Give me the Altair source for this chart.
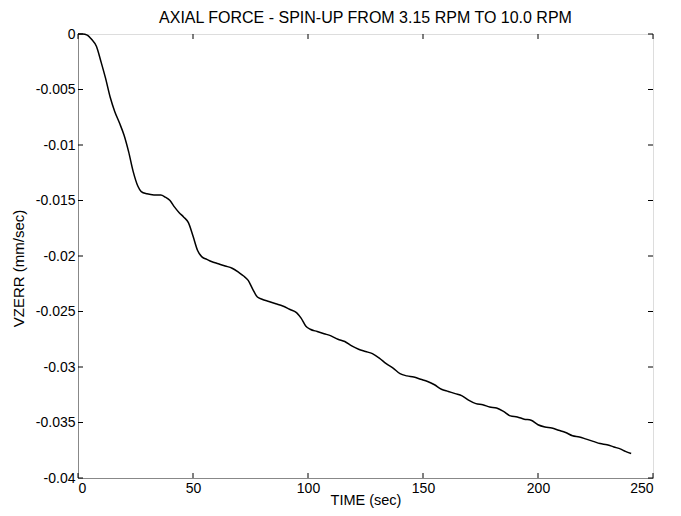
import altair as alt
import pandas as pd

# Curve (time in sec, VZERR in mm/sec)
time_s = [0, 2, 4, 6, 8, 10, 12, 14, 16, 18, 20, 22, 24, 26, 27.5, 30, 33, 36, 38, 40,
          42, 44, 46, 48, 50, 52, 54, 56, 58, 61, 64, 67, 70, 72, 74, 76, 78, 80, 83, 86,
          89, 92, 95, 97, 99, 101, 104, 107, 110, 113, 116, 119, 122, 125, 128, 131, 134,
          137, 140, 143, 146, 149, 152, 155, 158, 161, 164, 167, 170, 173, 176, 179, 182,
          185, 188, 191, 194, 197, 200, 203, 206, 209, 212, 215, 218, 221, 224, 227, 230,
          233, 236, 238, 240.5]
vzerr = [0, 0, -0.0001, -0.0005, -0.0011, -0.0025, -0.0040, -0.0057, -0.0070, -0.0080,
         -0.0091, -0.0106, -0.0124, -0.0137, -0.0142, -0.0144, -0.0145, -0.0145, -0.0147,
         -0.0150, -0.0156, -0.0161, -0.0165, -0.0170, -0.0182, -0.0195, -0.0201, -0.0203,
         -0.0205, -0.0207, -0.0209, -0.0211, -0.0215, -0.0218, -0.0222, -0.0230, -0.0237,
         -0.0239, -0.0241, -0.0243, -0.0245, -0.0248, -0.0251, -0.0256, -0.0263, -0.0266,
         -0.0268, -0.0270, -0.0272, -0.0275, -0.0277, -0.0281, -0.0284, -0.0286, -0.0288,
         -0.0292, -0.0297, -0.0301, -0.0306, -0.0308, -0.0309, -0.0311, -0.0313, -0.0316,
         -0.0320, -0.0322, -0.0324, -0.0326, -0.0330, -0.0333, -0.0334, -0.0336, -0.0337,
         -0.0340, -0.0344, -0.0345, -0.0347, -0.0348, -0.0352, -0.0354, -0.0355, -0.0357,
         -0.0359, -0.0362, -0.0363, -0.0365, -0.0367, -0.0369, -0.0370, -0.0372, -0.0374,
         -0.0376, -0.0378]

x_ticks = [0, 50, 100, 150, 200, 250]
y_ticks = [0, -0.005, -0.01, -0.015, -0.02, -0.025, -0.03, -0.035, -0.04]

W, H = 575, 444
FONT = "Liberation Sans"

df = pd.DataFrame({"t": time_s, "v": vzerr})
xt = pd.DataFrame({"t": x_ticks})
yt = pd.DataFrame({"v": y_ticks})

xs = alt.Scale(domain=[0, 250], nice=False, zero=False)
ys = alt.Scale(domain=[-0.04, 0], nice=False, zero=False)

x_axis = alt.Axis(
    values=x_ticks, title="TIME  (sec)", grid=False, ticks=False,
    labelFont=FONT, labelFontSize=14, labelColor="black", labelPadding=3,
    titleFont=FONT, titleFontSize=14.5, titleFontWeight="normal", titleColor="black",
    titleY=26.5, titleBaseline="alphabetic")
y_axis = alt.Axis(
    values=y_ticks, title="VZERR  (mm/sec)", grid=False, ticks=False,
    labelExpr="toString(datum.value)",
    labelFont=FONT, labelFontSize=14, labelColor="black", labelPadding=3,
    titleFont=FONT, titleFontSize=15, titleFontWeight="normal", titleColor="black",
    titleX=-60, titleY=234, titleAngle=-90,
    titleBaseline="middle", titleAlign="center")

line = alt.Chart(df).mark_line(color="black", strokeWidth=1.5, interpolate="monotone").encode(
    x=alt.X("t:Q", scale=xs, axis=x_axis),
    y=alt.Y("v:Q", scale=ys, axis=y_axis),
)

tb = alt.Chart(xt).mark_rule(color="black", strokeWidth=1).encode(
    x=alt.X("t:Q", scale=xs, axis=x_axis), y=alt.value(H), y2=alt.value(H - 5))
tt = alt.Chart(xt).mark_rule(color="black", strokeWidth=1).encode(
    x=alt.X("t:Q", scale=xs, axis=x_axis), y=alt.value(0), y2=alt.value(5))
tl = alt.Chart(yt).mark_rule(color="black", strokeWidth=1).encode(
    y=alt.Y("v:Q", scale=ys, axis=y_axis), x=alt.value(0), x2=alt.value(5))
tr = alt.Chart(yt).mark_rule(color="black", strokeWidth=1).encode(
    y=alt.Y("v:Q", scale=ys, axis=y_axis), x=alt.value(W - 5), x2=alt.value(W))

chart = alt.layer(line, tb, tt, tl, tr).properties(
    width=W, height=H,
    title=alt.TitleParams("AXIAL FORCE - SPIN-UP FROM 3.15 RPM TO 10.0 RPM",
                          font=FONT, fontSize=16, fontWeight="normal", color="black",
                          anchor="middle", offset=1),
    autosize=alt.AutoSizeParams(type="none"),
    padding={"left": 70, "top": 26, "right": 20, "bottom": 30},
).configure_view(stroke="black", strokeWidth=1.2).configure_axis(
    grid=False, domain=True, domainColor="black", domainWidth=1.2, ticks=False,
).configure(background="white")

chart.save("out.html", embed_options={"renderer": "svg", "actions": False})
